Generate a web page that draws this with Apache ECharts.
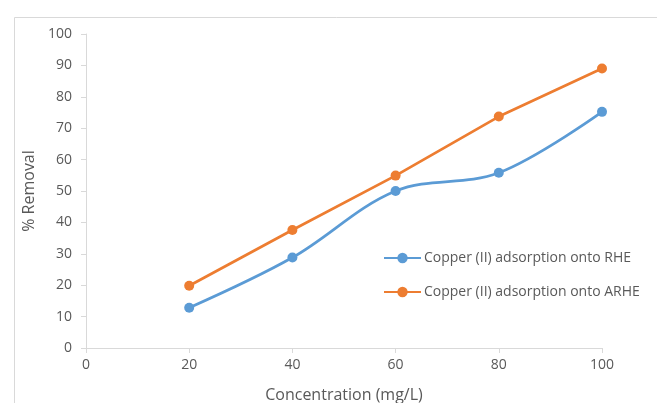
<!DOCTYPE html>
<html>
<head>
<meta charset="utf-8">
<script src="https://cdn.jsdelivr.net/npm/echarts@6/dist/echarts.min.js"></script>
<style>
  html, body { margin: 0; padding: 0; background: #fff; }
  #chart { width: 657px; height: 403px; }
</style>
</head>
<body>
<div id="chart"></div>
<script>
// Concentration (mg/L) and percentage removal for each adsorbent
const concentrations = [20, 40, 60, 80, 100];
const removalRHE = [12.8, 28.8, 50.0, 55.8, 75.2];
const removalARHE = [19.8, 37.6, 54.9, 73.7, 89.0];
const seriesNames = ['Copper (II) adsorption onto RHE', 'Copper (II) adsorption onto ARHE'];
const yTicks = { min: 0, max: 100, step: 10 };
const xTicks = { min: 0, max: 100, step: 20 };

const pairs = (xs, ys) => xs.map((x, i) => [x, ys[i]]);

const textColor = '#595959';
const lineGray = '#d9d9d9';
const font = 'Open Sans';

const chart = echarts.init(document.getElementById('chart'), null, { renderer: 'canvas' });
chart.setOption({
  backgroundColor: '#ffffff',
  animation: false,
  textStyle: { fontFamily: font },
  graphic: [{
    type: 'rect',
    left: 12, top: 15,
    shape: { width: 700, height: 420 },
    style: { fill: 'none', stroke: lineGray, lineWidth: 1 },
    silent: true, z: -1
  }],
  grid: { left: 86, right: 55, top: 34, bottom: 55, outerBoundsMode: 'none', containLabel: false },
  legend: {
    orient: 'vertical',
    left: 383, top: 251,
    padding: 0,
    itemWidth: 37, itemHeight: 13, itemGap: 20,
    textStyle: { color: textColor, fontSize: 14, fontFamily: font, padding: [0, 0, 0, -2] },
    data: seriesNames
  },
  xAxis: {
    type: 'value',
    min: xTicks.min, max: xTicks.max, interval: xTicks.step,
    name: 'Concentration (mg/L)',
    nameLocation: 'middle', nameGap: 39,
    nameTextStyle: { color: textColor, fontSize: 16, fontFamily: font },
    axisLine: { show: true, lineStyle: { color: lineGray, width: 1 } },
    axisTick: { show: true, length: 5, lineStyle: { color: lineGray } },
    axisLabel: { color: textColor, fontSize: 14, margin: 10, fontFamily: font },
    splitLine: { show: false }
  },
  yAxis: {
    type: 'value',
    min: yTicks.min, max: yTicks.max, interval: yTicks.step,
    name: '% Removal',
    nameLocation: 'middle', nameGap: 48,
    nameTextStyle: { color: textColor, fontSize: 16, fontFamily: font },
    axisLine: { show: true, lineStyle: { color: lineGray, width: 1 } },
    axisTick: { show: true, length: 5, lineStyle: { color: lineGray } },
    axisLabel: { color: textColor, fontSize: 14, margin: 14, fontFamily: font },
    splitLine: { show: false }
  },
  series: [
    {
      name: seriesNames[0],
      type: 'line',
      data: pairs(concentrations, removalRHE),
      smooth: 0.35,
      symbol: 'circle', symbolSize: 10,
      itemStyle: { color: '#5b9bd5' },
      lineStyle: { color: '#5b9bd5', width: 2.75 }
    },
    {
      name: seriesNames[1],
      type: 'line',
      data: pairs(concentrations, removalARHE),
      smooth: false,
      symbol: 'circle', symbolSize: 10,
      itemStyle: { color: '#ed7d31' },
      lineStyle: { color: '#ed7d31', width: 2.75 }
    }
  ]
});
</script>
</body>
</html>
